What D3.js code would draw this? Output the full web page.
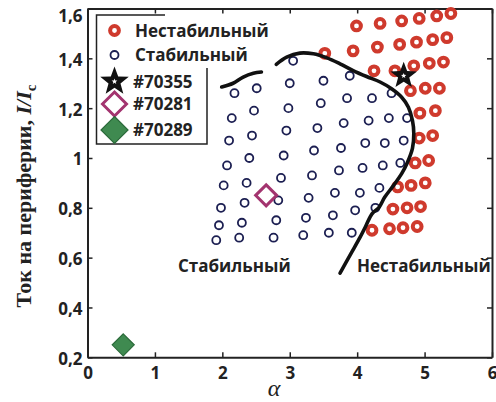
<!DOCTYPE html>
<html>
<head>
<meta charset="utf-8">
<script src="https://cdn.jsdelivr.net/npm/d3@7"></script>
<style>
  html, body { margin: 0; padding: 0; background: #fff; }
  svg { display: block; }
  .tick text { font-family: "Open Sans", sans-serif; font-weight: 700; font-size: 17px; fill: #222; }
</style>
</head>
<body>
<svg id="chart" width="496" height="402"></svg>
<script>
// Stability map: peripheral current I/Ic versus alpha

// Stable discharges (navy open circles), one array per scan column: [alpha, I/Ic]
const stableA = [[2.18,1.26],[2.14,1.16],[2.10,1.07],[2.07,0.97],[2.02,0.89],[1.98,0.80],[1.95,0.73],[1.91,0.67]];
const stableB = [[2.51,1.28],[2.47,1.19],[2.44,1.09],[2.40,1.00],[2.36,0.90],[2.33,0.82],[2.29,0.74],[2.25,0.68]];
const stableC = [[3.05,1.39],[3.00,1.30],[2.98,1.20],[2.95,1.11],[2.91,1.01],[2.87,0.92],[2.83,0.83],[2.80,0.75],[2.76,0.68]];
const stableD = [[3.50,1.31],[3.46,1.22],[3.41,1.12],[3.36,1.03],[3.33,0.93],[3.28,0.84],[3.24,0.76],[3.20,0.69]];
const stableE = [[3.89,1.33],[3.85,1.24],[3.80,1.14],[3.76,1.04],[3.73,0.95],[3.67,0.86],[3.64,0.77],[3.58,0.70]];
const stableF = [[4.22,1.24],[4.17,1.15],[4.12,1.06],[4.08,0.96],[4.04,0.86],[3.97,0.79],[3.92,0.70]];
const stableG = [[4.51,1.26],[4.47,1.16],[4.41,1.06],[4.38,0.97],[4.33,0.88],[4.27,0.80]];
const stableH = [[4.74,1.16],[4.69,1.07],[4.64,0.98]];

// Unstable discharges (red rings), one array per row
const unstable1 = [[3.99,1.53],[4.34,1.54],[4.66,1.55],[4.92,1.56],[5.18,1.57],[5.39,1.58]];
const unstable2 = [[3.52,1.42],[3.94,1.43],[4.30,1.445],[4.63,1.456],[4.88,1.465],[5.12,1.475],[5.33,1.483]];
const unstable3 = [[4.25,1.35],[4.56,1.35],[4.84,1.37],[5.07,1.38],[5.28,1.385]];
const unstable4 = [[4.79,1.27],[5.01,1.28],[5.22,1.28]];
const unstable5 = [[4.93,1.18],[5.16,1.19]];
const unstable6 = [[4.92,1.08],[5.12,1.09]];
const unstable7 = [[4.86,0.98],[5.06,0.99]];
const unstable8 = [[4.60,0.884],[4.80,0.89],[5.01,0.90]];
const unstable9 = [[4.53,0.795],[4.74,0.80],[4.94,0.805]];
const unstable10 = [[4.22,0.71],[4.48,0.716],[4.68,0.72],[4.89,0.725]];

// Individual shots
const shot70355 = [4.69, 1.33];
const shot70281 = [2.65, 0.85];
const shot70289 = [0.53, 0.25];

// Stability boundary: short left piece and main curve
const boundaryLeft = [[1.99,1.285],[2.16,1.30],[2.31,1.325],[2.46,1.34],[2.58,1.345]];
const boundaryMain = [[2.80,1.376],[2.955,1.405],[3.15,1.421],[3.35,1.418],[3.55,1.402],[3.746,1.378],
  [3.94,1.351],[4.14,1.327],[4.34,1.305],[4.51,1.278],[4.66,1.244],[4.76,1.204],[4.82,1.151],
  [4.84,1.098],[4.82,1.039],[4.74,0.979],[4.66,0.937],[4.54,0.89],[4.41,0.843],[4.325,0.802],
  [4.22,0.776],[4.13,0.728],[4.04,0.68],[3.92,0.622],[3.82,0.574],[3.746,0.538]];

// Axis ticks
const xTicks = [0, 1, 2, 3, 4, 5, 6];
const yTicks = [0.2, 0.4, 0.6, 0.8, 1.0, 1.2, 1.4, 1.6];

// Legend entries and region captions
const legendLabels = ["Нестабильный", "Стабильный", "#70355", "#70281", "#70289"];
const regionLabels = ["Стабильный", "Нестабильный"];

const colors = {
  stable: "#1c1f52",
  unstable: "#cf3a2d",
  s70281: "#a3346f",
  s70289: "#3f8a50",
  s70289edge: "#2b6a3a",
  frame: "#222"
};

const svg = d3.select("#chart");
const plotLeft = 87.5, plotRight = 492, plotTop = 8.5, plotBottom = 357.3;

const x = d3.scaleLinear().domain([0, 6]).range([plotLeft, plotRight]);
const y = d3.scaleLinear().domain([0.2, 1.6]).range([plotBottom, plotTop]);
const fmt = v => String(+v.toFixed(1)).replace(".", ",");

// Axes with inward ticks on all four sides
svg.append("g").attr("transform", `translate(0,${plotBottom})`)
  .call(d3.axisBottom(x).tickValues(xTicks).tickFormat(fmt).tickSizeInner(-5).tickSizeOuter(0).tickPadding(10));
svg.append("g").attr("transform", `translate(0,${plotTop})`)
  .call(d3.axisTop(x).tickValues(xTicks).tickFormat("").tickSizeInner(-5).tickSizeOuter(0));
const yAxisG = svg.append("g").attr("transform", `translate(${plotLeft},0)`)
  .call(d3.axisLeft(y).tickValues(yTicks).tickFormat(fmt).tickSizeInner(-5).tickSizeOuter(0).tickPadding(5));
// keep the topmost label inside the canvas
yAxisG.selectAll(".tick text").attr("dy", d => d >= 1.6 ? "0.76em" : "0.41em");
svg.append("g").attr("transform", `translate(${plotRight},0)`)
  .call(d3.axisRight(y).tickValues(yTicks).tickFormat("").tickSizeInner(-5).tickSizeOuter(0));
svg.selectAll(".domain").attr("stroke", colors.frame).attr("stroke-width", 2);
svg.selectAll(".tick line").attr("stroke", colors.frame).attr("stroke-width", 1.5);

// Legend box
const legend = svg.append("g");
legend.append("path")
  .attr("d", "M165,15 H96.5 V144 H207 V68")
  .attr("fill", "none").attr("stroke", colors.frame).attr("stroke-width", 1.5);

// Marker helpers
function starPath(r) {
  const pts = [];
  for (let i = 0; i < 10; i++) {
    const rr = i % 2 === 0 ? r : r * 0.42;
    const a = -Math.PI / 2 + i * Math.PI / 5;
    pts.push([rr * Math.cos(a), rr * Math.sin(a)]);
  }
  return "M" + pts.map(p => p.join(",")).join("L") + "Z";
}
function diamondPath(h) {
  return `M0,${-h}L${h},0L0,${h}L${-h},0Z`;
}
function drawStable(g, cx, cy) {
  g.append("circle").attr("cx", cx).attr("cy", cy).attr("r", 4)
    .attr("fill", "none").attr("stroke", colors.stable).attr("stroke-width", 1.8);
}
function drawUnstable(g, cx, cy) {
  g.append("circle").attr("cx", cx).attr("cy", cy).attr("r", 4.4)
    .attr("fill", "#fff").attr("stroke", colors.unstable).attr("stroke-width", 4);
}
function drawStar(g, cx, cy, r) {
  g.append("path").attr("d", starPath(r)).attr("transform", `translate(${cx},${cy})`).attr("fill", "#111");
  g.append("path").attr("d", starPath(r * 0.2)).attr("transform", `translate(${cx},${cy})`).attr("fill", "#fff");
}
function drawDiamondOpen(g, cx, cy, h) {
  g.append("path").attr("d", diamondPath(h)).attr("transform", `translate(${cx},${cy})`)
    .attr("fill", "#fff").attr("stroke", colors.s70281).attr("stroke-width", 3);
}
function drawDiamondFilled(g, cx, cy, h) {
  g.append("path").attr("d", diamondPath(h)).attr("transform", `translate(${cx},${cy})`)
    .attr("fill", colors.s70289).attr("stroke", colors.s70289edge).attr("stroke-width", 1.2);
}

// Data marks
const marks = svg.append("g");
[stableA, stableB, stableC, stableD, stableE, stableF, stableG, stableH].forEach(col =>
  col.forEach(d => drawStable(marks, x(d[0]), y(d[1]))));
[unstable1, unstable2, unstable3, unstable4, unstable5, unstable6, unstable7, unstable8, unstable9, unstable10]
  .forEach(row => row.forEach(d => drawUnstable(marks, x(d[0]), y(d[1]))));

// Boundary curves
const line = d3.line().x(d => x(d[0])).y(d => y(d[1])).curve(d3.curveCatmullRom.alpha(0.5));
[boundaryLeft, boundaryMain].forEach(b =>
  marks.append("path").attr("d", line(b)).attr("fill", "none")
    .attr("stroke", "#111").attr("stroke-width", 3.6).attr("stroke-linecap", "round"));

drawStar(marks, x(shot70355[0]), y(shot70355[1]), 14);
drawDiamondOpen(marks, x(shot70281[0]), y(shot70281[1]), 10.5);
drawDiamondFilled(marks, x(shot70289[0]), y(shot70289[1]), 11);

// Legend entries
const lx = 114.5, ty = [30.5, 55, 81.5, 104, 130];
drawUnstable(legend, lx, ty[0]);
drawStable(legend, lx, ty[1]);
drawStar(legend, lx, ty[2], 15);
drawDiamondOpen(legend, lx, ty[3], 12);
drawDiamondFilled(legend, lx, ty[4], 13.5);
const textStyle = s => s.attr("font-family", "'Open Sans', sans-serif").attr("font-weight", 700)
  .attr("font-size", 17).attr("fill", "#222");
legendLabels.forEach((t, i) => {
  legend.append("text").attr("x", i < 2 ? 135 : 133).attr("y", ty[i]).attr("dy", "0.36em")
    .text(t).call(textStyle);
});

// Region captions
svg.append("text").attr("x", 178).attr("y", 266).attr("dy", "0.36em").text(regionLabels[0]).call(textStyle);
svg.append("text").attr("x", 357).attr("y", 266).attr("dy", "0.36em").text(regionLabels[1]).call(textStyle);

// Axis titles
svg.append("text").attr("x", 274).attr("y", 395.5)
  .attr("text-anchor", "middle").attr("font-family", "'Liberation Serif', serif")
  .attr("font-style", "italic").attr("font-size", 24).attr("fill", "#222").text("α");

const yl = svg.append("text").attr("transform", "translate(31,196) rotate(-90)")
  .attr("text-anchor", "middle").attr("font-family", "'Liberation Serif', serif")
  .attr("font-weight", 700).attr("font-size", 22).attr("fill", "#222");
yl.append("tspan").text("Ток на периферии, ");
yl.append("tspan").attr("font-style", "italic").text("I/I");
yl.append("tspan").attr("font-size", 15).attr("dy", 5).text("c");
</script>
</body>
</html>
